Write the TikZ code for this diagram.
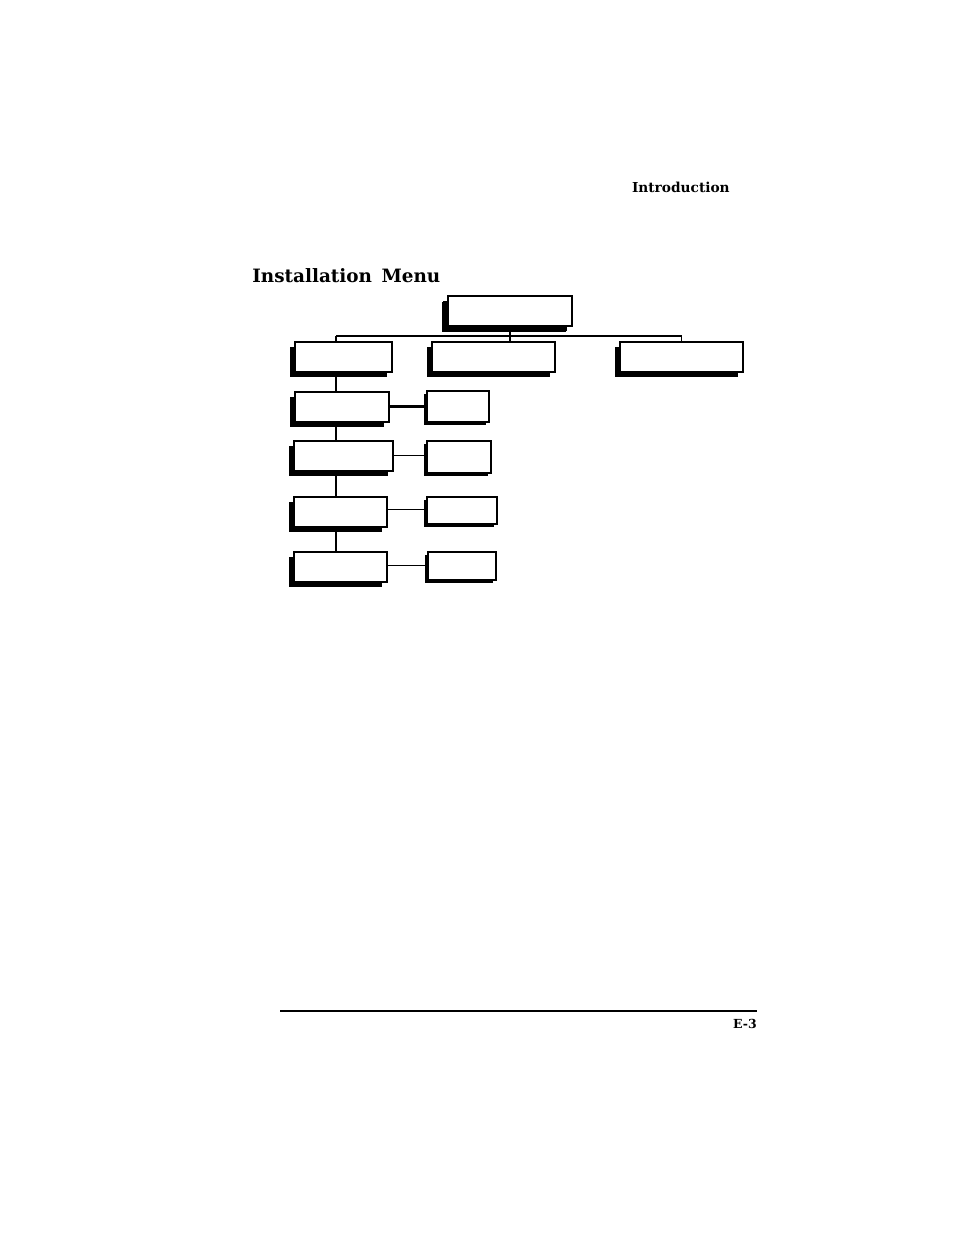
\documentclass[tikz,border=0pt]{standalone}
\usepackage{fontspec}
\setmainfont{DejaVu Serif}
\usetikzlibrary{shadows,backgrounds}

\begin{document}
\begin{tikzpicture}[x=0.6415pt, y=-0.6415pt,
    menubox/.style={draw, fill=white, line width=1.2pt, inner sep=0pt,
        drop shadow={shadow xshift=-3.2pt, shadow yshift=-3.2pt, fill=black, opacity=1}},
    bigbox/.style={menubox, drop shadow={shadow xshift=-3.8pt, shadow yshift=-3.8pt, fill=black, opacity=1}},
    smallbox/.style={draw, fill=white, line width=1.2pt, inner sep=0pt,
        drop shadow={shadow xshift=-2.2pt, shadow yshift=-2.2pt, fill=black, opacity=1}},
    link/.style={line width=0.9pt}]
    \useasboundingbox (0,0) rectangle (954,1235);
    \node[anchor=base east, inner sep=0pt, font=\fontsize{8.8}{10}\selectfont\bfseries] (head) at (730,192.3) {Introduction};
    \node[anchor=base west, inner sep=0pt, font=\fontsize{11.8}{14}\selectfont\bfseries] (title) at (252,282.7) {Installation\ \,Menu};
    \node[bigbox, minimum width=79.5pt, minimum height=19.2pt] (top) at (510,311) {};
    \node[menubox, minimum width=62.2pt, minimum height=19.2pt] (cA) at (343.5,357) {};
    \node[menubox, minimum width=78.9pt, minimum height=19.2pt] (cB) at (493.5,357) {};
    \node[menubox, minimum width=78.9pt, minimum height=19.2pt] (cC) at (681.5,357) {};
    \node[menubox, minimum width=60.3pt, minimum height=19.2pt] (L1) at (342,407) {};
    \node[menubox, minimum width=63.5pt, minimum height=19.2pt] (L2) at (343.5,456) {};
    \node[menubox, minimum width=59.7pt, minimum height=19.2pt] (L3) at (340.5,512) {};
    \node[menubox, minimum width=59.7pt, minimum height=19.2pt] (L4) at (340.5,567) {};
    \node[smallbox, minimum width=39.8pt, minimum height=19.9pt] (R1) at (458,406.5) {};
    \node[smallbox, minimum width=41.1pt, minimum height=20.5pt] (R2) at (459,457) {};
    \node[smallbox, minimum width=44.9pt, minimum height=17.3pt] (R3) at (462,510.5) {};
    \node[smallbox, minimum width=43.6pt, minimum height=18pt] (R4) at (462,566) {};
    \coordinate (busL) at (336,336);
    \coordinate (busR) at (cC.north |- busL);
    \begin{scope}[on background layer]
        \draw[link] (busL) -- (busR);
        \draw[link] (top.south) -- (top.south |- cB.north);
        \draw[link] (busL) -- (busL |- cA.north);
        \draw[link] (busR) -- (cC.north);
        \draw[link] (busL |- cA.south) -- (busL |- L4.north);
    \end{scope}
    \draw[line width=1.3pt] (L1.east |- R1.west) -- (R1.west);
    \draw[line width=0.6pt] (L2.east |- 0,455.3) -- (R2.west |- 0,455.3);
    \draw[line width=0.6pt] (L3.east |- 0,509.3) -- (R3.west |- 0,509.3);
    \draw[line width=0.6pt] (L4.east |- 0,565) -- (R4.west |- 0,565);
    \coordinate (ruleL) at (280,1011);
    \coordinate (ruleR) at (757,1011);
    \draw[line width=0.7pt] (ruleL) -- (ruleR);
    \node[anchor=base east, inner sep=0pt, font=\fontsize{8}{9}\selectfont\bfseries] (page) at (ruleR |- 0,1028.3) {E-3};
\end{tikzpicture}
\end{document}
